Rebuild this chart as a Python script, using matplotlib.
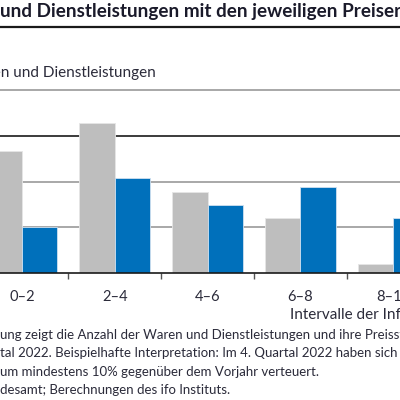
import matplotlib
matplotlib.use('Agg')
import matplotlib.pyplot as plt
import numpy as np

plt.rcParams['font.family'] = ['Lato', 'DejaVu Sans']

################################ data ################################

intervals = ['0–2', '2–4', '4–6', '6–8', '8–10']
q4_2021 = [26.8, 33.0, 17.8, 12.1, 2.0]   # grey bars
q4_2022 = [10.0, 20.9, 14.9, 18.9, 12.1]  # blue bars

title = 'und Dienstleistungen mit den jeweiligen Preiserhöhungen'
subtitle = 'Anzahl der Waren und Dienstleistungen'
xlabel = 'Intervalle der Inflationsraten (in %)'
notes = ['ung zeigt die Anzahl der Waren und Dienstleistungen und ihre Preissteigerung',
         'tal 2022. Beispielhafte Interpretation: Im 4. Quartal 2022 haben sich',
         'um mindestens 10% gegenüber dem Vorjahr verteuert.',
         'desamt; Berechnungen des ifo Instituts.']

grey = '#bebebe'
blue = '#0070bb'
txt = '#2b2b3a'

################################ plot ################################

fig = plt.figure(figsize=(4, 4), dpi=100)
ax = fig.add_axes([0, 1 - 273/400, 1, (273 - 90)/400])

x = np.arange(len(intervals))
w = 0.38
ax.bar(x - w/2, q4_2021, w, color=grey, edgecolor='#e6e6e6', linewidth=0.6, zorder=3)
ax.bar(x + w/2, q4_2022, w, color=blue, edgecolor='#d0e0f0', linewidth=0.6, zorder=3)

ax.set_xlim(-0.237, 4.075)
ax.set_ylim(0, 40.2)

for yv in [10, 20]:
    ax.axhline(yv, color='#9a9a9a', linewidth=1.2, zorder=1)
ax.axhline(30, color='#1a1a1a', linewidth=1.2, zorder=1)

for s in ['left', 'right']:
    ax.spines[s].set_visible(False)
ax.spines['top'].set_color('#9a9a9a')
ax.spines['top'].set_linewidth(1.2)
ax.spines['bottom'].set_color('#1a1a1a')
ax.spines['bottom'].set_linewidth(1.2)
ax.spines['bottom'].set_zorder(4)

ax.set_yticks([])
ax.set_xticks(x)
ax.set_xticklabels(intervals, fontsize=10.5, color=txt)
ax.tick_params(axis='x', which='major', length=0, pad=12)
ax.set_xticks(x[:-1] + 0.5, minor=True)
ax.tick_params(axis='x', which='minor', length=4, width=1, color='#555555', direction='out')

# header and notes
fig.text(0, 1 - 12/400, title, fontsize=13.6, fontweight='bold', color='#1a1a2a', va='center', ha='left')
fig.add_artist(plt.Line2D([0, 1], [1 - 27/400] * 2, color='#1a1a1a', linewidth=1.6))
fig.text(156/400, 1 - 73/400, subtitle, fontsize=11, color=txt, va='center', ha='right')
fig.text(290/400, 1 - 315/400, xlabel, fontsize=11, color=txt, va='center', ha='left')
for i, line in enumerate(notes):
    fig.text(0, 1 - (335 + 18.3*i)/400, line, fontsize=9.5, color=txt, va='center', ha='left')

fig.savefig('out.png', dpi=100)
